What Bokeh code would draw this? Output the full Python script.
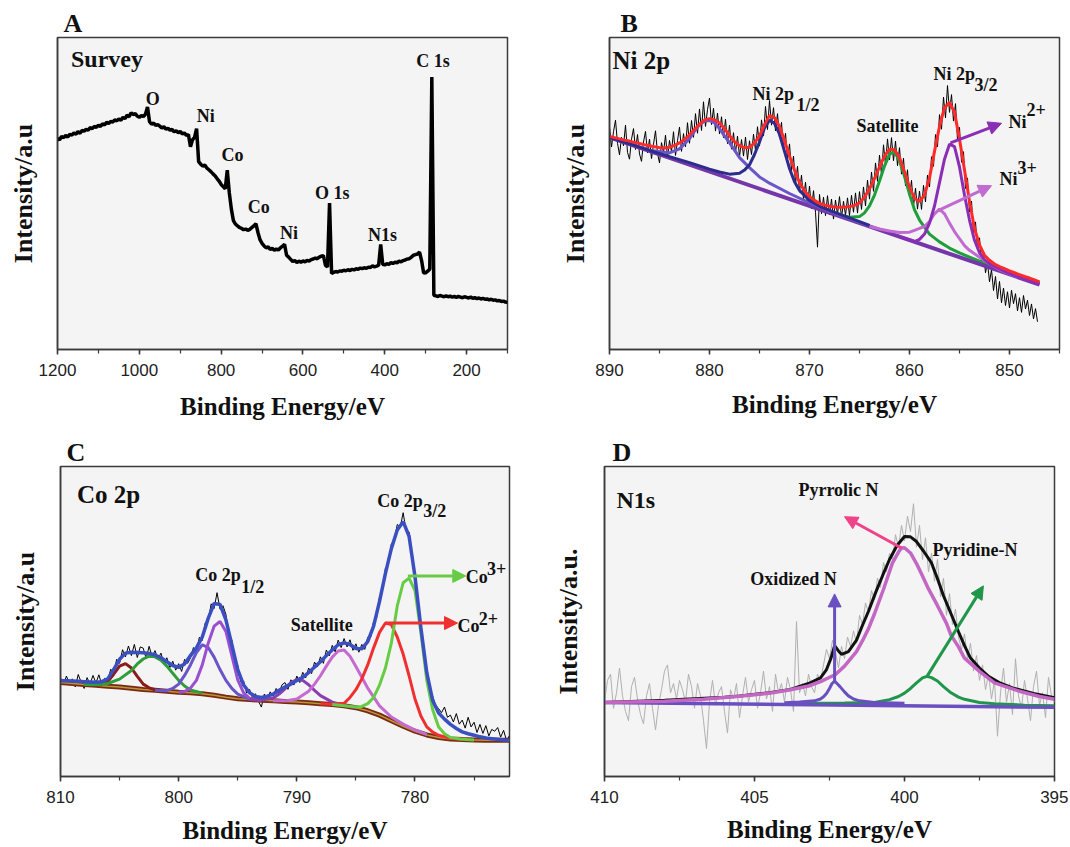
from bokeh.plotting import figure
from bokeh.models import Range1d, SingleIntervalTicker, FixedTicker, Label, Arrow, NormalHead
from bokeh.layouts import column, row
from bokeh.embed import file_html
from bokeh.resources import INLINE

SERIF = "Liberation Serif"
SANS = "Liberation Sans"
FRAME = "#3a3a3a"

# ---------------- Panel A: survey (1200 -> 100 eV, step 5) ----------------
a_start, a_step = 1200, 5
a_int = [
    67.6, 67.2, 68.3, 67.9, 68.6, 68.1, 69.0, 68.7, 69.4, 69.0,
    69.8, 69.3, 70.2, 70.0, 70.6, 70.3, 71.1, 70.8, 71.5, 71.2,
    71.9, 71.5, 72.3, 72.0, 72.8, 72.4, 73.1, 72.9, 73.6, 73.3,
    73.9, 73.5, 74.4, 74.0, 75.1, 74.6, 75.9, 75.3, 75.6, 74.8,
    74.4, 75.0, 74.7, 75.4, 77.7, 73.0, 72.2, 72.6, 71.8, 72.1,
    71.6, 71.0, 71.4, 70.6, 70.9, 70.3, 70.5, 69.8, 70.1, 69.5,
    69.9, 69.1, 69.4, 68.6, 68.9, 65.0, 67.2, 68.0, 70.8, 60.2,
    59.4, 58.8, 59.1, 58.2, 57.6, 57.0, 56.3, 55.7, 54.8, 54.0,
    52.9, 52.2, 51.5, 57.5, 50.2, 45.0, 41.3, 40.2, 39.6, 39.1,
    38.8, 38.4, 38.6, 38.2, 38.5, 39.1, 39.6, 40.3, 37.5, 35.2,
    34.0, 33.2, 32.6, 32.9, 32.1, 32.4, 31.8, 32.2, 31.9, 32.6,
    33.1, 33.7, 30.2, 29.6, 28.9, 28.2, 28.5, 27.9, 28.3, 28.0,
    28.4, 28.1, 28.6, 28.3, 28.8, 29.0, 29.3, 29.1, 29.6, 29.9,
    30.1, 27.0, 26.5, 46.9, 24.4, 24.7, 25.0, 24.8, 25.2, 25.1,
    25.4, 25.2, 25.6, 25.3, 25.7, 25.5, 25.9, 25.7, 26.1, 25.9,
    26.2, 26.0, 26.4, 26.3, 26.8, 26.5, 26.7, 27.0, 33.7, 27.3,
    27.1, 27.5, 27.3, 27.8, 27.6, 28.0, 27.8, 28.3, 28.1, 28.5,
    28.7, 29.0, 29.1, 29.6, 30.2, 30.4, 30.6, 31.2, 28.5, 24.5,
    24.6, 25.1, 25.8, 87.3, 17.4, 17.2, 17.0, 17.3, 17.1, 16.9,
    17.2, 16.9, 17.1, 16.8, 17.0, 16.7, 17.0, 16.8, 16.6, 16.9,
    16.7, 16.5, 16.8, 16.4, 16.6, 16.3, 16.5, 16.2, 16.4, 16.1,
    16.2, 15.9, 16.1, 15.8, 15.9, 15.6, 15.7, 15.4, 15.5, 15.2,
    15.1,
]

# ---------------- Panel B: Ni 2p ----------------
b_raw_start, b_raw_step = 890, 0.2
b_raw = [
    71.2, 64.9, 69.8, 73.5, 66.1, 62.4, 68.0, 65.3, 71.9, 63.2,
    61.0, 67.4, 70.8, 64.1, 68.9, 62.7, 60.3, 66.5, 69.9, 63.0,
    67.4, 61.2, 65.8, 70.1, 62.9, 59.8, 66.3, 63.1, 68.7, 61.5,
    67.0, 63.4, 69.8, 62.2, 66.9, 71.3, 63.5, 69.2, 65.0, 72.7,
    66.1, 73.4, 68.0, 75.6, 69.3, 77.1, 70.2, 79.4, 71.5, 76.9,
    80.6, 72.1, 77.3, 70.0, 75.8, 69.1, 74.6, 67.9, 73.8, 66.0,
    71.9, 64.2, 69.5, 63.0, 68.4, 61.7, 67.3, 62.0, 68.1, 60.9,
    66.9, 62.5, 69.0, 63.8, 71.4, 65.2, 73.6, 68.4, 77.9, 70.5,
    79.8, 71.9, 77.5, 70.1, 75.6, 68.0, 72.8, 64.5, 69.3, 60.8,
    65.9, 57.4, 62.0, 53.1, 58.7, 50.4, 55.9, 48.2, 53.6, 46.3,
    52.4, 45.1, 50.9, 44.0, 32.8, 49.7, 43.5, 48.8, 42.9, 49.3,
    43.1, 48.2, 41.8, 47.9, 43.3, 49.0, 42.2, 47.5, 43.0, 48.6,
    42.9, 49.4, 44.0, 50.2, 43.7, 50.6, 44.9, 52.1, 46.0, 54.3,
    48.2, 56.9, 50.7, 59.8, 53.9, 62.3, 56.1, 65.6, 59.2, 67.5,
    60.8, 67.9, 60.5, 66.8, 58.9, 64.7, 56.2, 61.3, 52.4, 57.6,
    48.9, 54.2, 45.8, 51.7, 45.0, 50.8, 44.9, 52.6, 47.3, 55.9,
    52.1, 61.8, 58.7, 68.9, 65.0, 75.3, 70.6, 80.9, 74.2, 84.6,
    76.0, 81.7, 73.2, 78.8, 67.1, 71.2, 60.0, 63.4, 51.6, 55.0,
    44.1, 47.6, 37.2, 40.9, 32.0, 35.8, 28.4, 31.0, 24.6, 27.9,
    21.7, 25.6, 18.9, 23.4, 16.2, 21.8, 15.0, 19.7, 14.1, 18.5,
    13.3, 19.0, 14.7, 17.9, 12.4, 16.6, 11.9, 17.3, 13.0, 15.8,
    10.9, 14.6, 9.8, 13.1, 8.9,
]
b_fit_start, b_fit_step = 890, 0.5
b_fit = [
    68.3, 67.9, 67.5, 67.1, 66.8, 66.4, 66.0, 65.6, 65.3, 65.0,
    64.7, 64.6, 64.8, 65.4, 66.2, 67.3, 68.8, 70.5, 72.2, 73.5,
    74.0, 73.6, 72.6, 70.8, 68.6, 66.6, 65.3, 64.7, 64.8, 66.2,
    68.5, 72.0, 75.0, 74.3, 71.5, 67.0, 62.0, 57.5, 53.5, 50.8,
    49.0, 47.8, 46.8, 46.3, 45.9, 45.7, 45.6, 45.6, 45.8, 46.2,
    47.0, 48.8, 51.5, 54.8, 58.5, 62.0, 64.2, 64.0, 61.5, 57.0,
    52.0, 48.5, 47.4, 49.5, 55.0, 63.5, 71.5, 77.5, 79.2, 76.0,
    67.5, 57.5, 47.5, 38.8, 33.5, 30.2, 28.6, 27.4, 26.6, 25.9,
    25.2, 24.6, 24.0, 23.4, 22.9, 22.3, 21.7,
]
b_bg_ev = [890, 847]
b_bg = [68.0, 20.8]
b_p880_ev = [890, 888, 886, 884, 883, 882, 881.5, 881, 880.5, 880, 879.5, 879, 878.5, 878,
             877, 876, 875, 874, 872, 870, 868, 866, 864]
b_p880 = [68.0, 65.9, 63.9, 63.0, 64.3, 67.6, 70.0, 72.0, 73.2, 73.4, 72.6, 70.8, 68.5, 66.3,
          61.5, 58.3, 55.3, 53.3, 50.0, 47.0, 44.3, 41.9, 39.6]
b_p874_ev = [890, 886, 884, 882, 880, 879, 878, 877, 876.5, 876, 875.5, 875, 874.5, 874, 873.5,
             873, 872.5, 872, 871.5, 871, 870, 869, 868, 866, 864]
b_p874 = [68.0, 63.8, 61.8, 59.9, 57.8, 56.9, 56.2, 56.5, 57.5, 59.2, 62.5, 66.5, 71.0, 73.5, 72.5,
          69.0, 63.5, 58.0, 53.8, 51.0, 47.8, 45.9, 44.6, 42.2, 39.8]
b_sat_ev = [870, 868, 866, 865, 864.5, 864, 863.5, 863, 862.5, 862, 861.5, 861, 860.5, 860, 859.5,
            859, 858, 857, 856, 855, 854, 852, 850, 847]
b_sat = [46.0, 44.0, 42.4, 42.6, 43.8, 46.0, 49.5, 54.0, 58.8, 62.6, 63.4, 60.5, 55.5, 49.8, 44.8,
         41.5, 37.0, 34.5, 32.5, 31.0, 29.6, 27.0, 24.5, 21.3]
b_ni2_ev = [861, 860, 859.5, 859, 858.5, 858, 857.5, 857, 856.5, 856, 855.5, 855, 854.5, 854, 853.5,
            853, 852.5, 852, 851, 850, 848, 847]
b_ni2 = [36.1, 35.2, 34.6, 35.3, 37.0, 40.5, 46.0, 53.5, 61.0, 65.8, 65.0, 58.5, 49.5, 41.5, 35.0,
         31.0, 28.8, 27.5, 25.8, 24.3, 22.0, 20.9]
b_ni3_ev = [864, 863, 862, 861, 860, 859.5, 859, 858.5, 858, 857.5, 857, 856.5, 856, 855.5, 855,
            854.5, 854, 853, 852, 851, 850, 848]
b_ni3 = [39.4, 38.6, 38.0, 37.5, 37.6, 38.2, 38.8, 39.5, 41.0, 43.5, 45.0, 43.5, 40.5, 37.8, 35.5,
         33.3, 31.8, 29.6, 27.5, 25.6, 24.2, 22.2]

# ---------------- Panel C: Co 2p ----------------
c_raw_start, c_raw_step = 810, 0.25
c_raw = [
    31.8, 29.6, 32.4, 30.1, 31.5, 28.9, 32.9, 30.4, 28.4, 31.9, 29.8, 32.6,
    30.2, 32.8, 29.5, 31.7, 30.9, 34.6, 33.1, 37.8, 36.5, 40.9, 38.6, 42.1,
    39.0, 42.6, 38.4, 41.8, 41.4, 38.1, 42.0, 38.7, 40.6, 37.9, 39.8, 36.4,
    38.3, 35.1, 37.2, 34.3, 36.4, 33.9, 37.8, 36.5, 38.2, 41.6, 40.3, 44.9,
    43.9, 49.6, 50.1, 55.7, 54.2, 59.3, 54.0, 55.1, 52.3, 45.0, 44.1, 37.2,
    35.9, 30.6, 30.8, 26.9, 28.1, 25.4, 26.7, 24.3, 22.4, 26.6, 25.0, 27.3,
    25.9, 28.4, 27.0, 29.6, 30.3, 28.1, 31.2, 29.5, 32.4, 30.3, 33.6, 31.8,
    35.0, 33.2, 36.9, 35.4, 38.6, 36.5, 40.8, 38.9, 42.3, 40.2, 44.0, 41.6,
    44.5, 41.8, 44.1, 40.7, 42.8, 40.1, 42.6, 41.0, 44.9, 45.0, 50.1, 51.2,
    57.9, 60.1, 67.2, 68.6, 75.0, 76.1, 81.3, 80.4, 85.1, 79.2, 78.9, 70.3,
    65.9, 55.1, 49.4, 39.7, 34.8, 27.9, 25.8, 23.0, 21.9, 20.6, 22.4, 19.1,
    19.8, 17.6, 20.3, 16.9, 18.2, 15.6, 19.1, 16.0, 17.5, 14.2, 16.8, 13.9,
    16.4, 13.1, 15.2, 14.6, 15.8, 12.7, 14.9, 11.6, 13.2,
]
c_env_start, c_env_step = 810, 0.5
c_env = [
    30.9, 30.85, 30.8, 30.7, 30.6, 30.5, 30.4, 30.6, 31.5, 34.5,
    37.8, 39.8, 40.1, 40.0, 39.9, 39.7, 39.2, 38.3, 37.0, 35.8,
    35.2, 36.3, 39.0, 41.5, 45.0, 51.0, 55.8, 55.5, 50.5, 42.5,
    34.5, 29.5, 27.0, 25.8, 25.5, 25.9, 26.6, 27.8, 28.9, 29.8,
    31.0, 32.0, 33.5, 35.3, 37.0, 39.0, 40.8, 42.5, 43.1, 42.6,
    41.3, 41.2, 43.5, 48.5, 56.5, 65.5, 73.5, 79.5, 82.2, 77.5,
    64.5, 48.0, 33.5, 24.5, 20.5, 18.5, 16.8, 15.5, 14.4, 13.8,
    13.3, 12.8, 12.4, 12.2, 12.0, 11.8, 11.7,
]
c_bg_start, c_bg_step = 810, 1
c_bg = [
    30.3, 30.0, 29.7, 29.4, 29.1, 28.9, 28.5, 28.1, 27.8, 27.5,
    27.2, 27.0, 26.7, 26.2, 25.6, 25.1, 24.8, 24.6, 24.4, 24.2,
    24.0, 23.8, 23.5, 23.2, 22.8, 22.2, 21.2, 19.8, 18.0, 16.2,
    14.6, 13.4, 12.6, 12.1, 11.9, 11.8, 11.7, 11.7, 11.7,
]
c_p805_ev = [808, 807, 806.5, 806, 805.5, 805, 804.5, 804, 803.5, 803, 802.5, 802, 801]
c_p805 = [29.7, 29.5, 29.8, 30.6, 33.0, 35.6, 36.4, 35.0, 32.3, 29.8, 28.6, 28.0, 27.5]
c_p802_ev = [808, 807, 806, 805, 804, 803.5, 803, 802.5, 802, 801.5, 801, 800.5, 800, 799.5, 799, 798]
c_p802 = [29.7, 29.6, 30.0, 31.4, 34.2, 36.3, 37.9, 38.8, 38.6, 37.5, 35.6, 33.3, 31.0, 29.2, 27.9, 26.9]
c_p798_ev = [802, 801, 800.5, 800, 799.5, 799, 798.5, 798, 797.5, 797, 796.5, 796, 795.5, 795, 794, 793]
c_p798 = [27.8, 27.7, 28.4, 29.8, 32.6, 36.0, 40.0, 42.5, 41.6, 38.5, 34.5, 31.0, 28.4, 26.6, 25.0, 24.6]
c_p796_ev = [800, 799.5, 799, 798.5, 798, 797.5, 797, 796.5, 796, 795.5, 795, 794.5, 794, 793]
c_p796 = [27.2, 27.4, 28.5, 31.0, 36.0, 43.0, 48.5, 50.0, 46.8, 39.0, 31.2, 27.0, 25.2, 24.6]
c_p790_ev = [794, 793, 792, 791.5, 791, 790.5, 790, 789.5, 789, 788.5, 788, 787, 786, 785]
c_p790 = [24.8, 24.7, 25.3, 26.6, 28.3, 30.3, 31.3, 31.0, 29.6, 27.8, 26.1, 24.0, 23.0, 22.2]
c_p786_ev = [792, 791, 790, 789, 788.5, 788, 787.5, 787, 786.5, 786, 785.5, 785, 784.5, 784, 783,
             782, 781, 780, 779]
c_p786 = [24.4, 24.4, 25.0, 27.5, 29.8, 32.5, 35.6, 38.5, 40.5, 40.8, 38.8, 35.5, 32.0, 28.5, 22.8,
          19.2, 16.9, 15.0, 13.6]
c_co2_ev = [788, 787, 786, 785.5, 785, 784.5, 784, 783.5, 783, 782.5, 782, 781.5, 781, 780.5, 780,
            779.5, 779, 778.5, 778, 777, 776]
c_co2 = [23.5, 23.3, 23.6, 25.5, 28.0, 31.5, 36.0, 41.5, 46.5, 49.5, 49.0, 45.0, 39.5, 32.5, 25.0,
         19.5, 16.0, 14.3, 13.3, 12.3, 11.9]
c_co3_ev = [787, 786, 785, 784.5, 784, 783.5, 783, 782.5, 782, 781.5, 781, 780.5, 780, 779.5, 779,
            778.5, 778, 777.5, 777, 776, 775]
c_co3 = [23.2, 22.8, 22.4, 22.6, 23.5, 25.5, 29.5, 35.0, 43.0, 55.0, 62.5, 64.0, 60.0, 46.5, 31.0,
         21.5, 16.0, 13.8, 12.6, 12.0, 11.8]

# ---------------- Panel D: N 1s ----------------
d_raw_start, d_raw_step = 410, 0.1
d_raw = [
    24, 31, 33, 22, 27, 35, 26, 21, 18, 29,
    32, 25, 20, 17, 26, 30, 22, 15, 23, 28,
    34, 36, 27, 30, 25, 31, 28, 24, 33, 29,
    22, 30, 26, 18, 9, 24, 31, 23, 27, 29,
    21, 14, 28, 25, 30, 19, 26, 32, 24, 28,
    31, 22, 27, 34, 25, 29, 21, 33, 27, 30,
    24, 32, 28, 21, 50, 27, 30, 26, 33, 29,
    27, 33, 31, 36, 41, 38, 44, 40, 35, 42,
    38, 45, 42, 47, 43, 52, 49, 56, 53, 60,
    57, 64, 61, 69, 66, 72, 70, 78, 74, 81,
    76, 84, 79, 88, 74, 81, 70, 77, 66, 72,
    63, 70, 58, 64, 52, 59, 49, 54, 45, 41,
    46, 38, 43, 34, 39, 31, 36, 28, 33, 25,
    31, 13, 27, 35, 24, 30, 20, 38, 26, 22,
    31, 25, 18, 29, 34, 23, 27, 19, 32, 26,
    24,
]
d_env_ev = [410, 408, 406, 405.5, 404.5, 403.8, 403.2, 402.8, 402.6, 402.45, 402.33, 402.2, 402.1,
            401.87, 401.6, 401.4, 401.2, 400.96, 400.7, 400.5, 400.25, 400.0, 399.8, 399.6, 399.35,
            399.1, 398.9, 398.7, 398.45, 398.2, 398.0, 397.8, 397.5, 397.2, 396.8, 396.4, 395.7, 395]
d_env = [23.9, 24.6, 25.6, 26.0, 27.0, 28.1, 30.0, 31.8, 34.5, 38.2, 42.2, 40.5, 39.4,
         40.3, 44.0, 48.8, 53.3, 59.4, 65.5, 70.0, 74.5, 77.4, 77.3, 75.8, 72.5,
         68.9, 63.8, 58.3, 52.5, 46.7, 42.2, 38.2, 35.0, 32.3, 30.1, 28.6, 26.8, 25.4]
d_pyrrolic_ev = [410, 408, 406.7, 405.5, 404.4, 403.8, 403.2, 402.8, 402.3, 402.0, 401.6, 401.4,
                 401.2, 401.0, 400.7, 400.4, 400.2, 400.1, 400.0, 399.8, 399.6, 399.4, 399.2,
                 398.9, 398.6, 398.45, 398.2, 398.0, 397.5, 397.0, 396.2, 395.5, 395]
d_pyrrolic = [23.9, 24.3, 24.9, 25.9, 27.0, 28.0, 29.2, 30.6, 32.9, 35.6, 40.3, 43.8,
              47.7, 52.5, 60.4, 68.9, 72.4, 73.7, 73.8, 72.1, 68.7, 64.7, 60.5,
              55.1, 49.4, 45.6, 41.8, 38.2, 33.9, 30.2, 27.6, 25.8, 24.9]
d_oxid_ev = [404.0, 403.5, 403.0, 402.8, 402.7, 402.6, 402.5, 402.42, 402.33, 402.25, 402.15,
             402.0, 401.87, 401.7, 401.5, 401.0, 400.0]
d_oxid = [23.8, 24.0, 24.4, 25.0, 25.7, 26.8, 28.4, 29.9, 30.8, 30.0, 29.0,
          27.3, 26.0, 25.0, 24.4, 23.9, 23.6]
d_pyridine_ev = [404, 403, 402, 401, 400.5, 400.2, 400.0, 399.8, 399.6, 399.4, 399.25, 399.1,
                 398.9, 398.7, 398.45, 398.2, 398.0, 397.5, 397.0, 396.0, 395.0]
d_pyridine = [23.5, 23.6, 23.7, 23.9, 24.8, 25.8, 26.9, 28.4, 30.2, 31.8, 32.3, 31.9,
              30.8, 29.0, 27.0, 25.6, 24.9, 23.9, 23.5, 23.0, 22.8]
d_bg_ev = [410, 395]
d_bg = [23.9, 22.3]


def grid(start, step, values):
    return [start - step * i for i in range(len(values))]


def panel(width, height, borders, x_start, x_end, interval, letter, letter_offset,
          ytitle, y_standoff, x_standoff):
    lb, rb, tb, bb = borders
    p = figure(width=width, height=height, title=letter,
               x_range=Range1d(x_start, x_end), y_range=Range1d(0, 100),
               output_backend="svg", toolbar_location=None,
               min_border_left=lb, min_border_right=rb,
               min_border_top=tb, min_border_bottom=bb,
               background_fill_color="#f4f4f4", border_fill_color="white",
               outline_line_color=FRAME, outline_line_width=1.5)
    p.title.text_font = SERIF
    p.title.text_font_style = "bold"
    p.title.text_font_size = "26px"
    p.title.text_color = "#111111"
    p.title.align = "left"
    p.title.offset = letter_offset
    p.title.standoff = 0
    p.xgrid.visible = False
    p.ygrid.visible = False
    ax = p.xaxis[0]
    ax.ticker = SingleIntervalTicker(interval=interval, num_minor_ticks=2)
    ax.axis_line_color = FRAME
    ax.axis_line_width = 1.5
    ax.major_tick_line_color = FRAME
    ax.major_tick_line_width = 1.5
    ax.minor_tick_line_color = FRAME
    ax.minor_tick_line_width = 1.2
    ax.major_tick_in = 0
    ax.major_tick_out = 5
    ax.minor_tick_in = 0
    ax.minor_tick_out = 4
    ax.major_label_standoff = 9
    ax.major_label_text_font = SANS
    ax.major_label_text_font_size = "17px"
    ax.major_label_text_color = "#222222"
    ax.axis_label = "Binding Energy/eV"
    ax.axis_label_text_font = SERIF
    ax.axis_label_text_font_style = "bold"
    ax.axis_label_text_font_size = "25px"
    ax.axis_label_text_color = "#111111"
    ax.axis_label_standoff = x_standoff
    ay = p.yaxis[0]
    ay.ticker = FixedTicker(ticks=[])
    ay.axis_line_color = FRAME
    ay.axis_line_width = 1.5
    ay.major_tick_line_color = None
    ay.minor_tick_line_color = None
    ay.major_tick_out = 0
    ay.major_label_standoff = 0
    ay.major_label_text_font_size = "0px"
    ay.axis_label = ytitle
    ay.axis_label_text_font = SERIF
    ay.axis_label_text_font_style = "bold"
    ay.axis_label_text_font_size = "26px"
    ay.axis_label_text_color = "#111111"
    ay.axis_label_standoff = y_standoff
    return p


def txt(p, x, y, s, size=18, align="center", color="#111111"):
    p.add_layout(Label(x=x, y=y, text=s, text_font=SERIF, text_font_style="bold",
                       text_font_size=f"{size}px", text_align=align, text_baseline="middle",
                       text_color=color))


def arrow(p, x0, y0, x1, y1, color, w=3, size=13):
    p.add_layout(Arrow(end=NormalHead(size=size, fill_color=color, line_color=color),
                       x_start=x0, y_start=y0, x_end=x1, y_end=y1,
                       line_color=color, line_width=w))


# ---------------- A ----------------
pA = panel(534, 425, (57, 27, 37, 72), 1200, 100, 200, "A", 6, "Intensity/a.u", 20, 14)
pA.line(grid(a_start, a_step, a_int), a_int, line_color="black", line_width=3.5)
txt(pA, 1167, 93.1, "Survey", size=24, align="left")
for s, x, y in [("O", 967, 80.4), ("Ni", 837.4, 75.0), ("Co", 772, 62.3), ("Co", 708, 45.6),
                ("Ni", 634.4, 37.4), ("O 1s", 528.3, 50.1), ("N1s", 405.5, 36.8), ("C 1s", 282, 92.6)]:
    txt(pA, x, y, s)

# ---------------- B ----------------
pB = panel(528, 425, (75, 3, 33, 76), 890, 845, 10, "B", 11, "Intensity/a.u", 20, 12)
pB.line(grid(b_raw_start, b_raw_step, b_raw), b_raw, line_color="black", line_width=1)
pB.line(b_sat_ev, b_sat, line_color="#1f9e3c", line_width=3)
pB.line(b_bg_ev, b_bg, line_color="#7436a8", line_width=4)
pB.line(b_p880_ev, b_p880, line_color="#6a56c8", line_width=3)
pB.line(b_p874_ev, b_p874, line_color="#2c2c8c", line_width=3)
pB.line(b_ni3_ev, b_ni3, line_color="#c06ad2", line_width=3)
pB.line(b_ni2_ev, b_ni2, line_color="#8a2fb5", line_width=3)
pB.line(grid(b_fit_start, b_fit_step, b_fit), b_fit, line_color="#ff2a2a", line_width=3)
txt(pB, 889.7, 92.6, "Ni 2p", size=25, align="left")
txt(pB, 875.7, 82.0, "Ni 2p", align="left")
txt(pB, 871.3, 78.4, "1/2", align="left")
txt(pB, 857.6, 88.4, "Ni 2p", align="left")
txt(pB, 853.5, 84.7, "3/2", align="left")
txt(pB, 862.2, 71.5, "Satellite")
txt(pB, 850.1, 73.0, "Ni", align="left")
txt(pB, 848.3, 76.8, "2+", align="left")
txt(pB, 851.0, 54.6, "Ni", align="left")
txt(pB, 849.2, 58.3, "3+", align="left")
arrow(pB, 855.9, 66.2, 850.8, 72.5, "#8a2fb5")
arrow(pB, 857.1, 44.6, 851.8, 52.5, "#c06ad2")

# ---------------- C ----------------
pC = panel(534, 421, (60, 25, 38, 69), 810, 772, 10, "C", 6, "Intensity/a.u", 21, 11)
pC.line(grid(c_raw_start, c_raw_step, c_raw), c_raw, line_color="black", line_width=1)
c_bg_x = grid(c_bg_start, c_bg_step, c_bg)
pC.line(c_bg_x, c_bg, line_color="#7a2a12", line_width=5)
pC.line(c_bg_x, c_bg, line_color="#b8963a", line_width=1.5)
pC.line(c_p805_ev, c_p805, line_color="#8b1a1a", line_width=3)
pC.line(c_p802_ev, c_p802, line_color="#2d9e3a", line_width=3)
pC.line(c_p798_ev, c_p798, line_color="#6a55c8", line_width=3)
pC.line(c_p796_ev, c_p796, line_color="#9a4fd0", line_width=3)
pC.line(c_p790_ev, c_p790, line_color="#8a3fb0", line_width=3)
pC.line(c_p786_ev, c_p786, line_color="#c46ad0", line_width=3)
pC.line(c_co2_ev, c_co2, line_color="#f03030", line_width=3)
pC.line(c_co3_ev, c_co3, line_color="#66cc44", line_width=3)
pC.line(grid(c_env_start, c_env_step, c_env), c_env, line_color="#3a4fc0", line_width=3.5)
txt(pC, 808.6, 91.0, "Co 2p", size=25, align="left")
txt(pC, 798.6, 64.9, "Co 2p", align="left")
txt(pC, 794.7, 61.2, "1/2", align="left")
txt(pC, 783.2, 88.8, "Co 2p", align="left")
txt(pC, 779.3, 85.6, "3/2", align="left")
txt(pC, 787.9, 48.9, "Satellite")
txt(pC, 775.7, 64.4, "Co", align="left")
txt(pC, 773.9, 67.0, "3+", align="left")
txt(pC, 776.4, 48.4, "Co", align="left")
txt(pC, 774.6, 51.1, "2+", align="left")
arrow(pC, 780.6, 64.7, 775.7, 64.7, "#66cc44")
arrow(pC, 782.5, 49.5, 776.4, 49.5, "#f03030")

# ---------------- D ----------------
pD = panel(534, 421, (70, 14, 41, 66), 410, 395, 5, "D", 8, "Intensity/a.u.", 22, 10)
pD.line(grid(d_raw_start, d_raw_step, d_raw), d_raw, line_color="#b0b0b0", line_width=1)
pD.line(d_pyridine_ev, d_pyridine, line_color="#20964a", line_width=3)
pD.line(d_bg_ev, d_bg, line_color="#6a4fc0", line_width=3.5)
pD.line(d_oxid_ev, d_oxid, line_color="#6a4fc0", line_width=3)
pD.line(d_env_ev, d_env, line_color="#111111", line_width=3)
pD.line(d_pyrrolic_ev, d_pyrrolic, line_color="#c466c4", line_width=3.5)
txt(pD, 409.6, 89.1, "N1s", size=24, align="left")
txt(pD, 402.2, 92.3, "Pyrrolic N")
txt(pD, 397.65, 73.2, "Pyridine-N")
txt(pD, 403.7, 63.6, "Oxidized N")
arrow(pD, 400.1, 73.7, 402.0, 83.8, "#f0428a")
arrow(pD, 402.33, 30.8, 402.33, 58.9, "#6a4fc0")
arrow(pD, 399.25, 32.3, 397.37, 61.5, "#20964a")

layout = column(row(pA, pB), row(pC, pD))
open("out.html", "w").write(file_html(layout, INLINE))
